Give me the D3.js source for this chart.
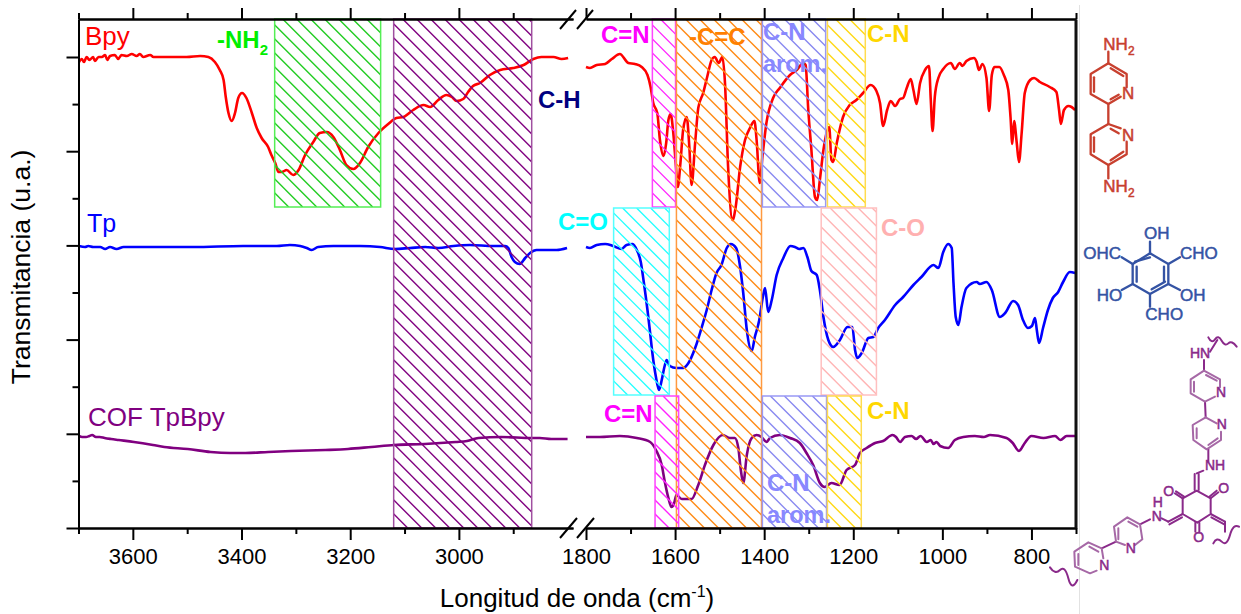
<!DOCTYPE html>
<html><head><meta charset="utf-8">
<script src="https://cdn.jsdelivr.net/npm/d3@7/dist/d3.min.js"></script>
<style>html,body{margin:0;padding:0;background:#fff}svg{display:block}text{font-family:"Liberation Sans",Arial,sans-serif}</style>
</head><body><svg id="c" width="1241" height="614"></svg>
<script>
// wavenumber (cm-1), transmittance (arbitrary units)
const bpyHigh=[[3699,466],[3694,469],[3690,466],[3685,471],[3680,468],[3673,471],[3670,467],[3663,471],[3657,471],[3651,473],[3647,468],[3642,472],[3633,473],[3627,469],[3621,473],[3611,472],[3602,474],[3593,472],[3587,474],[3581,471],[3568,473],[3562,471],[3550,471],[3532,471],[3501,471],[3476,472],[3461,471],[3449,466],[3440,458],[3433,448],[3429,431],[3424,415],[3418,407],[3412,415],[3406,430],[3399,435],[3391,430],[3381,415],[3372,400],[3363,390],[3351,381],[3345,373],[3338,365],[3332,356],[3326,356],[3317,358],[3305,353],[3295,358],[3283,373],[3268,386],[3256,395],[3243,396],[3231,391],[3219,378],[3207,363],[3194,359],[3182,365],[3167,381],[3148,395],[3130,404],[3115,410],[3102,411],[3084,418],[3065,423],[3053,421],[3038,428],[3023,433],[3013,431],[3004,427],[2992,429],[2983,436],[2974,442],[2961,445],[2943,453],[2924,458],[2900,460],[2881,463],[2863,469],[2848,471],[2826,471],[2811,469],[2799,470]];
const bpyLow=[[1800,461],[1791,460],[1776,463],[1757,464],[1742,469],[1724,474],[1705,465],[1690,464],[1675,461],[1662,453],[1655,441],[1649,425],[1640,415],[1634,388],[1626,372],[1620,385],[1615,408],[1610,414],[1604,395],[1598,361],[1594,341],[1588,365],[1582,398],[1574,411],[1568,381],[1563,343],[1555,385],[1548,420],[1537,435],[1528,451],[1518,468],[1511,471],[1502,465],[1494,471],[1488,445],[1481,361],[1471,308],[1464,321],[1454,361],[1443,388],[1432,400],[1422,407],[1417,388],[1410,345],[1404,371],[1395,405],[1380,430],[1365,440],[1342,453],[1327,458],[1312,465],[1307,463],[1301,418],[1294,378],[1286,331],[1281,328],[1275,348],[1267,378],[1260,395],[1254,401],[1249,368],[1245,366],[1237,385],[1223,411],[1208,423],[1193,428],[1178,435],[1161,443],[1148,437],[1140,425],[1133,402],[1124,418],[1116,427],[1106,422],[1095,429],[1088,430],[1080,440],[1071,449],[1065,438],[1058,424],[1050,445],[1039,458],[1030,462],[1026,428],[1022,397],[1017,431],[1009,450],[998,459],[981,465],[972,459],[961,465],[955,462],[946,467],[929,470],[923,466],[918,458],[910,464],[901,450],[895,417],[889,453],[883,461],[872,461],[862,453],[852,438],[847,411],[843,384],[839,407],[833,385],[828,366],[822,395],[815,435],[803,448],[794,450],[781,446],[759,441],[744,436],[738,418],[734,404],[727,418],[717,422],[710,421],[702,418]];
const tpHigh=[[3699,282],[3688,281],[3682,282],[3673,281],[3660,281],[3651,279],[3642,281],[3630,279],[3617,281],[3568,281],[3489,281],[3397,282],[3335,282],[3311,283],[3292,282],[3280,280],[3271,278],[3259,281],[3231,282],[3182,282],[3145,281],[3118,279],[3090,280],[3062,281],[3038,280],[3010,282],[2980,283],[2937,282],[2915,282],[2909,280],[2903,271],[2897,266],[2888,264],[2878,270],[2869,275],[2857,278],[2839,278],[2820,278],[2801,280]];
const tpLow=[[1800,281],[1791,280],[1776,283],[1757,284],[1739,282],[1720,279],[1709,283],[1695,284],[1686,278],[1677,266],[1670,245],[1662,218],[1656,195],[1651,175],[1643,151],[1636,138],[1630,148],[1624,161],[1619,168],[1612,162],[1597,160],[1582,160],[1570,165],[1555,180],[1540,201],[1529,218],[1518,238],[1507,255],[1496,263],[1484,280],[1475,284],[1463,280],[1454,261],[1447,235],[1439,198],[1428,177],[1421,191],[1411,208],[1403,231],[1398,240],[1391,216],[1383,228],[1372,253],[1357,270],[1341,282],[1331,281],[1321,279],[1312,280],[1303,271],[1294,257],[1282,253],[1275,238],[1267,211],[1256,188],[1245,181],[1230,188],[1213,201],[1202,201],[1196,178],[1191,170],[1181,175],[1166,190],[1155,191],[1144,200],[1129,208],[1106,223],[1088,231],[1065,243],[1047,251],[1020,263],[1009,260],[998,276],[987,284],[979,280],[975,245],[970,211],[964,203],[957,221],[946,240],[923,246],[916,244],[901,246],[889,238],[871,211],[859,215],[841,227],[830,223],[819,208],[808,200],[799,202],[792,210],[788,198],[783,185],[774,200],[763,218],[752,230],[740,236],[729,246],[714,256],[702,255]];
const cofHigh=[[3699,92],[3693,91],[3686,91],[3680,92],[3675,93],[3668,91],[3661,91],[3652,90],[3640,89],[3626,88],[3598,86],[3563,83],[3542,81],[3499,79],[3457,76],[3421,75],[3393,75],[3351,76],[3309,77],[3246,78],[3204,79],[3161,81],[3119,83],[3063,84],[3006,86],[2985,87],[2964,90],[2922,91],[2866,90],[2851,90],[2830,89],[2800,89]];
const cofLow=[[1800,91],[1769,91],[1724,92],[1686,90],[1656,86],[1643,78],[1630,63],[1623,46],[1615,30],[1608,21],[1602,25],[1597,33],[1585,29],[1563,29],[1548,43],[1533,63],[1514,83],[1493,93],[1477,90],[1466,90],[1458,80],[1453,60],[1447,45],[1439,73],[1428,90],[1417,93],[1406,91],[1395,86],[1387,90],[1365,93],[1342,90],[1320,85],[1305,75],[1290,63],[1275,45],[1264,41],[1249,45],[1231,43],[1215,58],[1196,63],[1185,75],[1170,80],[1151,85],[1133,87],[1112,93],[1104,91],[1095,86],[1084,91],[1069,92],[1059,89],[1049,92],[1035,86],[1026,88],[1020,84],[1013,86],[1005,82],[987,80],[972,88],[953,91],[927,92],[907,91],[893,93],[856,90],[842,85],[828,77],[815,85],[800,92],[773,90],[747,92],[735,88],[721,92],[702,92]];
// assignment bands: [wn start, wn end, T top, T bottom]
const bandsHigh=[[3339,3144,509,321],[3120,2866,509,0]];
const bandsLow=[[1651,1599,509,321],[1597,1406,509,0],[1404,1262,509,321],[1258,1173,509,321],[1738,1613,320,133],[1272,1148,320,133],[1645,1592,132,0],[1404,1260,132,0],[1258,1182,132,0]];
const xMajorHigh=[3600,3400,3200,3000], xMinorHigh=[3700,3500,3300,3100,2900];
const xMajorLow=[1800,1600,1400,1200,1000,800], xMinorLow=[1700,1500,1300,1100,900,700];
const yMajor=[0,94.2,188.4,282.6,376.8,471], yMinor=[47.1,141.3,235.5,329.7,423.9];

const bandColorsHigh=[["#22cc22","#55ee55"],["#800080","#a050a0"]];
const bandColorsLow=[["#ff22ff","#ff44ff"],["#ff8a14","#ff9a40"],["#8888f0","#9999f5"],["#ffd814","#ffdc50"],["#22ffff","#55ffff"],["#ffb4b4","#ffc0c0"],["#ff22ff","#ff44ff"],["#8888f0","#9999f5"],["#ffd814","#ffdc50"]];

const svg=d3.select("#c");
const xH=d3.scaleLinear().domain([3700,2790]).range([78.5,573]);
const xL=d3.scaleLinear().domain([1800,700]).range([586,1076]);
const y=d3.scaleLinear().domain([0,509]).range([528,19]);
const defs=svg.append("defs");

// curves
function curve(data,scale,col){
  const l=d3.line().x(d=>scale(d[0])).y(d=>y(d[1])).curve(d3.curveMonotoneX);
  svg.append("path").attr("d",l(data)).attr("fill","none").attr("stroke",col).attr("stroke-width",2.6).attr("stroke-linejoin","round");
}
curve(bpyHigh,xH,"#ff0000");curve(bpyLow,xL,"#ff0000");
curve(tpHigh,xH,"#0000ff");curve(tpLow,xL,"#0000ff");
curve(cofHigh,xH,"#800080");curve(cofLow,xL,"#800080");
// bands over curves: hatch lines clipped to each band
const hatchStep=14;
function bands(list,cols,scale,pre){
  list.forEach((b,i)=>{
    const a=scale(b[0]),c=scale(b[1]),t=y(b[2]),bt=y(b[3]),h=bt-t;
    defs.append("clipPath").attr("id",pre+i).append("rect").attr("x",a).attr("y",t).attr("width",c-a).attr("height",h);
    const g=svg.append("g").attr("clip-path",`url(#${pre+i})`);
    g.selectAll("line").data(d3.range(a-h,c,hatchStep)).join("line")
      .attr("x1",d=>d).attr("y1",t).attr("x2",d=>d+h).attr("y2",bt)
      .attr("stroke",cols[i][0]).attr("stroke-width",1.4);
    svg.append("rect").attr("x",a).attr("y",t).attr("width",c-a).attr("height",h)
      .attr("fill","none").attr("stroke",cols[i][1]).attr("stroke-width",1.5);
  });
}
bands(bandsHigh,bandColorsHigh,xH,"h");
bands(bandsLow,bandColorsLow,xL,"l");

// axes
function styleAxis(g){g.selectAll("path,line").attr("stroke","#000").attr("stroke-width",2);g.selectAll("text").attr("font-size",22).attr("fill","#000").attr("font-family",'"Liberation Sans",Arial,sans-serif');}
function xAxes(scale,major,minor){
  svg.append("g").attr("transform","translate(0,528)").call(d3.axisBottom(scale).tickValues(major).tickSize(12).tickSizeOuter(0).tickPadding(8).tickFormat(d3.format("d"))).call(styleAxis);
  svg.append("g").attr("transform","translate(0,528)").call(d3.axisBottom(scale).tickValues(minor).tickSize(6).tickSizeOuter(0).tickFormat("")).call(styleAxis);
  svg.append("g").attr("transform","translate(0,19)").call(d3.axisTop(scale).tickValues(major).tickSize(11).tickSizeOuter(0).tickFormat("")).call(styleAxis);
  svg.append("g").attr("transform","translate(0,19)").call(d3.axisTop(scale).tickValues(minor).tickSize(6).tickSizeOuter(0).tickFormat("")).call(styleAxis);
}
xAxes(xH,xMajorHigh,xMinorHigh);xAxes(xL,xMajorLow,xMinorLow);
const yx=78.5;
svg.append("g").attr("transform",`translate(${yx},0)`).call(d3.axisLeft(y).tickValues(yMajor).tickSize(12).tickSizeOuter(0).tickFormat("")).call(styleAxis);
svg.append("g").attr("transform",`translate(${yx},0)`).call(d3.axisLeft(y).tickValues(yMinor).tickSize(6).tickSizeOuter(0).tickFormat("")).call(styleAxis);
svg.append("g").attr("transform",`translate(1075.5,0)`).call(d3.axisRight(y).tickValues([]).tickSizeOuter(0)).call(g=>g.selectAll("path").attr("stroke","#111").attr("stroke-width",3));
// axis break marks
[[560,29,576,10],[577,29,593,10],[560,538,577,518],[577,538,594,518]].forEach(s=>
  svg.append("line").attr("x1",s[0]).attr("y1",s[1]).attr("x2",s[2]).attr("y2",s[3]).attr("stroke","#000").attr("stroke-width",2));
svg.append("line").attr("x1",1079.5).attr("x2",1079.5).attr("y1",5).attr("y2",614).attr("stroke","#e2e2e2").attr("stroke-width",1);

// labels
function label(t,x,yy,col,size,bold){
  return svg.append("text").attr("x",x).attr("y",yy).attr("fill",col).attr("font-size",size).attr("font-weight",bold?"bold":"normal").text(t);
}
label("Bpy",85,45,"#ff0000",26);
label("Tp",87,232,"#0000ff",25);
label("COF TpBpy",88,426,"#800080",26);
const nh=label("-NH",217,48,"#00ee00",24,true);
nh.append("tspan").attr("dy",7).attr("font-size",15).text("2");
label("C-H",538,108,"#000080",24,true);
label("C=N",601,43,"#ff00ff",24,true);
label("-C=C",689,45,"#ff8000",24,true);
label("C-N",763,40,"#8888ff",24,true);
label("arom.",763,72,"#8888ff",23.5,true);
label("C-N",867,42,"#ffd700",24,true);
label("C=O",558,230,"#00ffff",24,true);
label("C-O",881,236,"#ffb0b0",24,true);
label("C=N",604,422,"#ff00ff",24,true);
label("C-N",867,419,"#ffd700",24,true);
label("C-N",767,491,"#8888ff",24,true);
label("arom.",767,523,"#8888ff",23.5,true);
svg.append("text").attr("transform","translate(30,267) rotate(-90)").attr("text-anchor","middle").attr("font-size",26.5).attr("fill","#000").text("Transmitancia (u.a.)");
const xl=svg.append("text").attr("x",577).attr("y",607).attr("text-anchor","middle").attr("font-size",26).attr("fill","#000").text("Longitud de onda (cm");
xl.append("tspan").attr("dy",-10).attr("font-size",16).text("-1");
xl.append("tspan").attr("dy",10).text(")");

// molecule sketches (zoom-grid units, 3 per pixel)
function mol(ox,oy,col,paths,texts,fs,w){
  const g=svg.append("g").attr("transform",`translate(${ox},${oy}) scale(${1/3})`);
  paths.forEach(p=>g.append("path").attr("d",p.d||p).attr("fill","none").attr("stroke",p.c||col).attr("stroke-width",(p.w||w)).attr("stroke-linejoin","round").attr("stroke-linecap","round"));
  texts.forEach(t=>{
    const e=g.append("text").attr("x",t[1]).attr("y",t[2]).attr("fill",col).attr("font-size",fs*3).attr("stroke",col).attr("stroke-width",1.5).text(t[0]);
    if(t[3]) e.append("tspan").attr("dy",fs*0.9).attr("font-size",fs*2.1).text(t[3]);
  });
}
mol(860,0,"#c8402f",[
 "M800,262L800,222L745,190L692,222L692,282L745,312L782,290","M702,232L702,275","M752,205L790,228","M752,298L776,284",
 "M745,155L745,190","M745,312L745,372",
 "M782,385L745,372L692,403L692,463L745,495L800,463L800,425","M702,412L702,455","M752,386L776,400","M752,481L790,455",
 "M745,495L745,535"
],[["NH",730,150,"2"],["N",786,298],["N",786,422],["NH",730,575,"2"]],17,7);
mol(860,0,"#3453a4",[
 "M870,760L925,792L925,852L870,882L818,852L818,792Z","M912,800L912,845","M830,800L830,845","M825,785L870,772","M875,868L915,845",
 "M870,760L870,725","M925,792L960,772","M818,792L785,772","M818,852L785,870","M925,852L960,870","M870,882L870,920"
],[["OH",852,718],["CHO",960,778],["OHC",670,778],["HO",710,902],["OH",960,902],["CHO",856,960]],17,7);
const p1="#a668a6";
mol(1040,330,"#8a2a8a",[
 "M505,22Q515,42 525,28T545,32T565,40T590,50","M510,65L532,30",
 "M492,90L492,122","M495,215L497,262","M505,358L505,395","M490,422L470,430","M464,432L464,480","M476,432L476,480",
 "M470,482L512,505L512,552L472,578L428,552L428,505Z",
 "M512,505L535,487","M508,500L530,482","M428,505L405,490","M432,500L408,484","M466,578L466,605","M478,578L478,605",
 "M512,552L555,575","M514,562L553,583","M555,575L555,605","M428,552L385,575","M426,562L388,583","M385,575L365,565","M330,568L300,583",
 "M228,635L185,655",
 "M520,640Q530,620 545,635T570,615T597,590","M30,712Q45,735 60,720T85,745T112,750",
 {d:"M492,122L540,148L540,172M525,200L495,215L452,190L452,148L492,122M462,155L462,185M498,135L530,152",c:p1},
 {d:"M497,262L530,280M543,305L543,330L500,358L460,330L458,285L497,262M470,295L470,325M505,345L533,325",c:p1},
 {d:"M300,583L307,628L285,645M255,645L228,635L222,590L262,562L300,583M235,595L235,628M265,575L292,590",c:p1},
 {d:"M185,655L190,685M170,722L150,730L105,710L103,665L145,637L185,655M115,672L115,705M148,650L175,665",c:p1}
],[["HN",450,85],["N",528,200],["N",530,298],["NH",495,420],["O",370,498],["O",535,490],["O",460,635],["N",335,572],["H",338,530],["N",257,668],["N",178,720]],14,6);
</script></body></html>
